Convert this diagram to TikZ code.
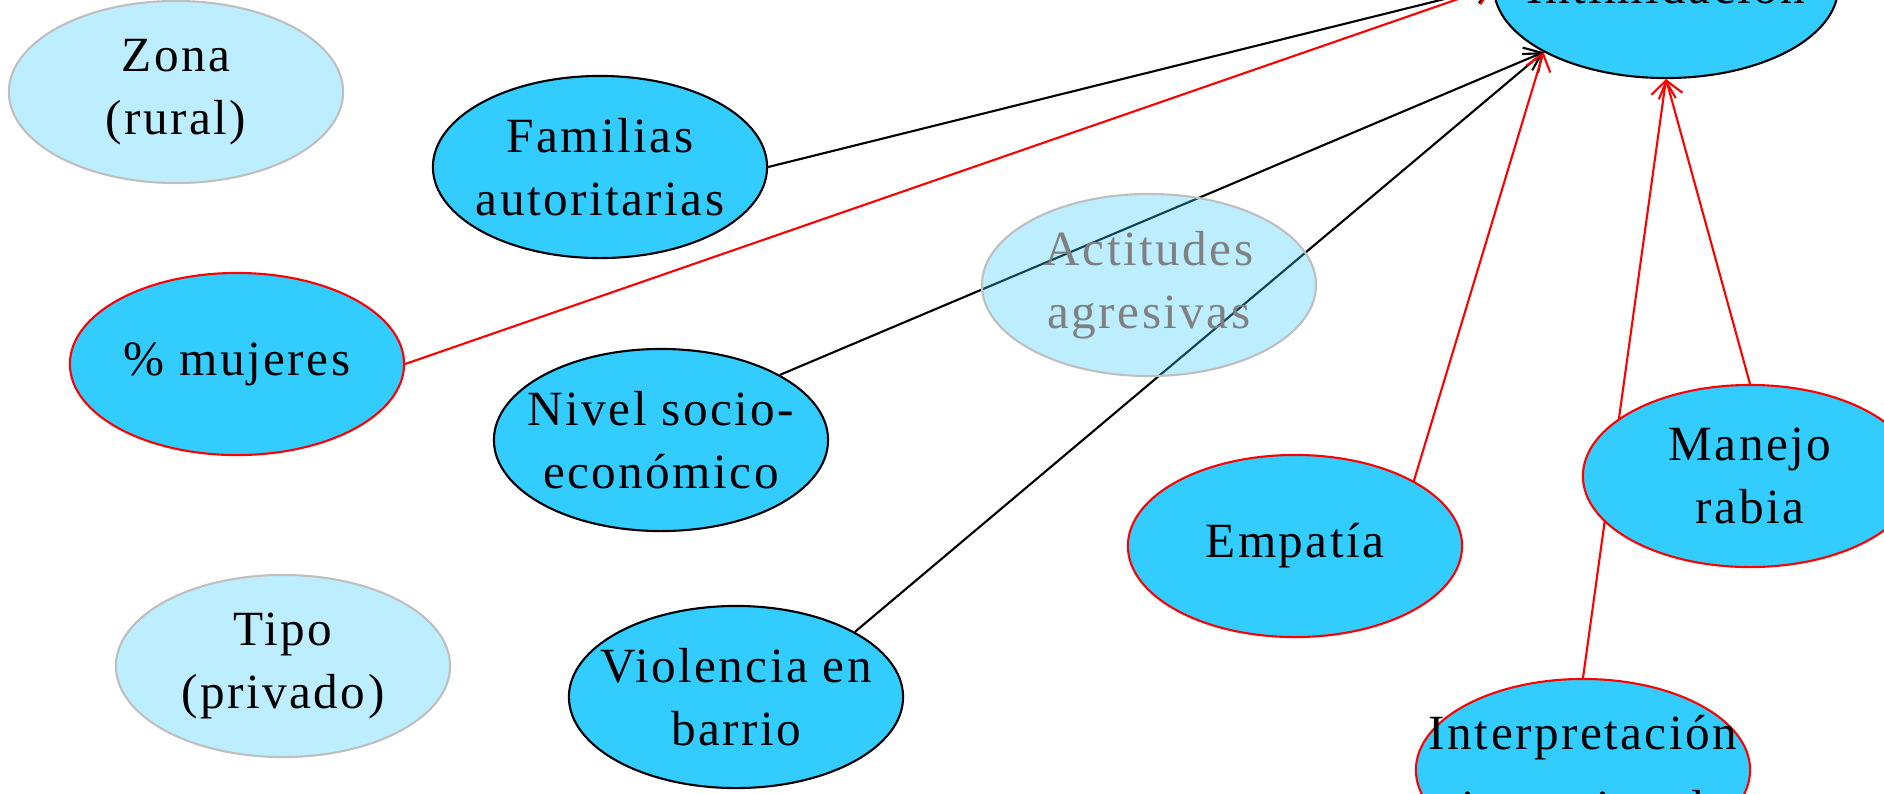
\documentclass[tikz,border=0pt]{standalone}
\usepackage{fontspec}
\setmainfont{Liberation Serif}[LetterSpace=5]
\usetikzlibrary{shapes.geometric, arrows.meta, backgrounds}

\definecolor{varblue}{HTML}{33CCFF}
\definecolor{negred}{HTML}{FF0000}

\begin{document}
\begin{tikzpicture}[
			x = 0.01 cm, y = -0.01 cm,
			font = \fontsize{14pt}{18pt}\selectfont,
			> = {Straight Barb[length = 4.5pt, width = 7pt]},
			factor/.style = {ellipse, draw, fill = varblue, line width = 0.6pt, align = center, minimum width = 3.34 cm, minimum height = 1.82 cm, inner xsep = -1 cm, inner ysep = 0pt},
			protect/.style = {factor, draw = negred},
			faded/.style = {factor, draw = black!25, fill opacity = 0.33, text opacity = 1},
			link/.style = {->, line width = 0.6pt},
			neglink/.style = {link, draw = negred}
		]
		\useasboundingbox (0,0) rectangle (1884,793);
		\clip (0,0) rectangle (1884,793);

		\node[faded] (zona) at (176,92) {Zona\\(rural)};
		\node[factor] (familias) at (600,167) {Familias\\autoritarias};
		\node[protect] (mujeres) at (237,364) {\% mujeres};
		\node[faded, text = black!50] (actitudes) at (1149,285) {Actitudes\\agresivas};
		\node[factor] (nivel) at (661,440) {Nivel socio-\\económico};
		\node[faded] (tipo) at (283,666) {Tipo\\(privado)};
		\node[factor] (violencia) at (736,697) {Violencia en\\barrio};
		\node[protect] (empatia) at (1295,546) {Empatía};
		\node[protect] (manejo) at (1750,476) {Manejo\\rabia};
		\node[protect] (interp) at (1583,770) {Interpretación\\[3.5pt]intencional};
		\node[factor, minimum width = 3.44 cm] (intim) at (1666,-13) {Intimidación};

		% paths into intimidacion, kept behind the ellipses
		\begin{scope}[on background layer]
			\clip (0,0) rectangle (1884,793);
			\draw[link] (familias.east) -- (intim.west);
			\draw[neglink] (mujeres.east) -- (intim.west);
			\draw[link] (nivel.north east) -- (intim.south west);
			\draw[link] (violencia.north east) -- (intim.south west);
			\draw[neglink] (empatia.north east) -- (intim.south west);
			\draw[neglink] (interp.north) -- (intim.south);
			\draw[neglink] (manejo.north) -- (intim.south);
		\end{scope}
	\end{tikzpicture}
\end{document}
